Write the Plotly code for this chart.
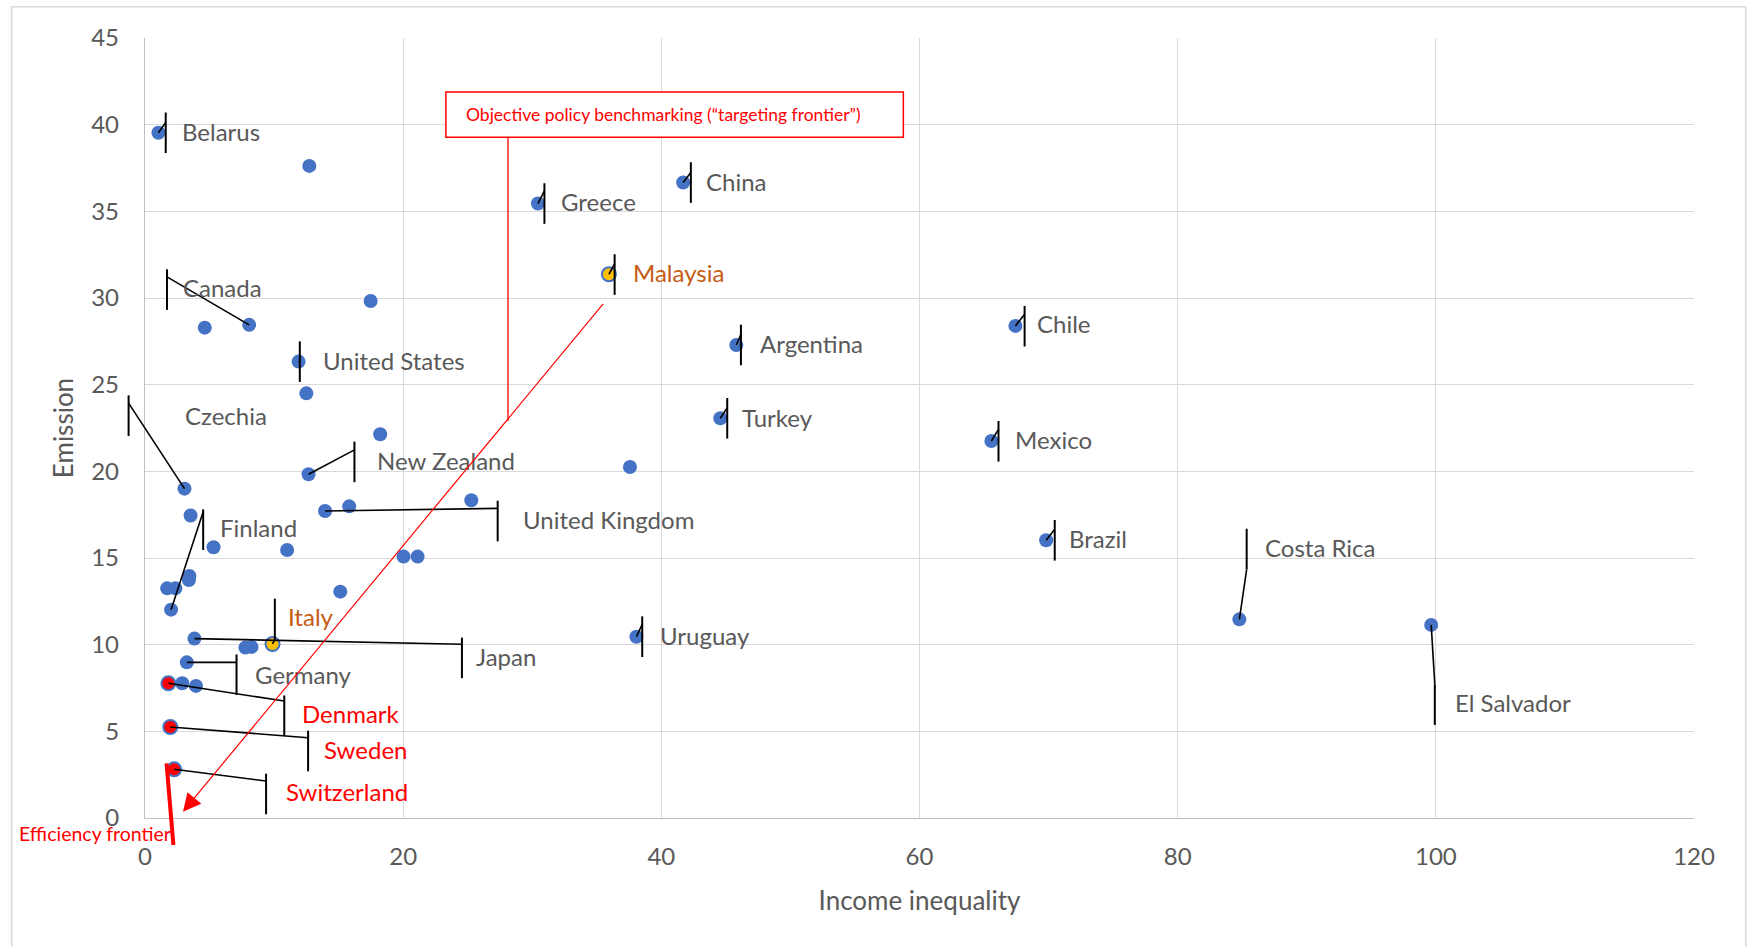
import plotly.graph_objects as go

# ---------------------------------------------------------------- data
countries = [
    "Belarus", "", "Greece", "China", "Malaysia", "", "Canada", "", "Chile",
    "Argentina", "United States", "", "Turkey", "", "Mexico", "", "New Zealand",
    "Czechia", "", "", "United Kingdom", "", "Brazil", "", "", "", "", "", "",
    "", "", "", "Finland", "Costa Rica", "El Salvador", "Uruguay", "Japan",
    "Italy", "", "", "Germany", "", "", "Denmark", "Sweden", "Switzerland",
]
income = [
    1.04, 12.73, 30.44, 41.69, 35.94, 17.48, 8.07, 4.63, 67.43,
    45.81, 11.90, 12.50, 44.57, 18.22, 65.57, 37.57, 12.67,
    3.06, 25.28, 15.82, 13.95, 3.53, 69.81, 5.31, 11.01, 20.03, 21.12, 3.44, 3.40,
    1.72, 2.35, 15.13, 2.02, 84.78, 99.64, 38.07, 3.83,
    9.88, 8.25, 7.78, 3.24, 2.88, 3.95, 1.81, 1.96, 2.26,
]
emission = [
    39.53, 37.62, 35.45, 36.66, 31.37, 29.83, 28.45, 28.29, 28.39,
    27.29, 26.33, 24.50, 23.06, 22.14, 21.75, 20.25, 19.83,
    19.00, 18.33, 17.98, 17.71, 17.45, 16.02, 15.62, 15.46, 15.08, 15.08, 13.96, 13.73,
    13.25, 13.25, 13.06, 12.02, 11.46, 11.14, 10.46, 10.35,
    10.04, 9.87, 9.83, 8.98, 7.77, 7.62, 7.77, 5.25, 2.81,
]
highlighted = ["Malaysia", "Italy"]
efficient = ["Denmark", "Sweden", "Switzerland"]

x_ticks = [0, 20, 40, 60, 80, 100, 120]
y_ticks = [0, 5, 10, 15, 20, 25, 30, 35, 40, 45]

# label callouts, in screen pixels relative to the point (right / up):
# bar x, bar centre y, leader end on the bar (from bar centre), text x, text y
callouts = {
    "Belarus":        (7.3, 0, 10.3, 24.6, -1.3),
    "Greece":         (6.5, 0, 12.7, 23.7, -1.3),
    "China":          (7.7, 0, 10.0, 23.4, -1.6),
    "Malaysia":       (5.7, -0.3, 10.6, 24.8, -1.7),
    "Argentina":      (4.6, 0, 10.7, 24.5, -1.7),
    "Turkey":         (6.9, 0, 10.6, 22.6, -2.0),
    "Chile":          (9.2, -0.3, 12.0, 23.0, -1.0),
    "Mexico":         (7.1, -0.3, 12.0, 24.5, -1.7),
    "Brazil":         (8.6, 0, 11.0, 23.4, -0.7),
    "Uruguay":        (5.8, 0, 12.4, 24.1, -1.6),
    "United States":  (1.2, 0, 0.0, 24.9, -1.6),
    "Canada":         (-82.2, 35.3, 12.7, -65.4, 34.0),
    "Czechia":        (-55.9, 73.0, 12.6, 1.1, 70.6),
    "New Zealand":    (45.9, 12.4, 12.0, 69.2, 11.0),
    "Finland":        (32.1, 80.0, 18.0, 49.7, 78.7),
    "United Kingdom": (172.6, -10.0, 12.7, 198.6, -11.7),
    "Japan":          (267.5, -19.3, 13.7, 282.1, -20.6),
    "Italy":          (2.3, 25.0, -20.3, 16.5, 24.0),
    "Germany":        (49.7, -12.4, 12.4, 68.8, -15.4),
    "Denmark":        (115.9, -32.4, 14.7, 134.7, -32.7),
    "Sweden":         (137.8, -24.0, 13.3, 155.0, -25.7),
    "Switzerland":    (91.9, -24.7, 13.0, 112.9, -25.7),
    "Costa Rica":     (7.3, 70.3, -20.3, 27.1, 69.3),
    "El Salvador":    (3.6, -79.7, 20.3, 24.6, -81.0),
}
BAR_HALF = 20.3
TEXT_NUDGE = (-3, 3)  # fine adjustment of label text against its box

# ---------------------------------------------------------------- styling
W, H = 1751, 947
M = dict(l=145, r=57, t=38, b=129)
PW = W - M["l"] - M["r"]
PH = H - M["t"] - M["b"]
X_RANGE = [0, 120]
Y_RANGE = [0, 45]

BLUE = "#4472C4"
GREY_TXT = "#595959"
ORANGE_TXT = "#C55A11"
RED = "#FF0000"
FONT = "Lato"


def to_paper(x, y, dx=0.0, dy=0.0):
    """Data position plus a pixel offset -> paper coordinates."""
    px = (x - X_RANGE[0]) / (X_RANGE[1] - X_RANGE[0]) + dx / PW
    py = (y - Y_RANGE[0]) / (Y_RANGE[1] - Y_RANGE[0]) + dy / PH
    return px, py


def pix_to_paper(px, py):
    """Absolute figure pixel -> paper coordinates."""
    return (px - M["l"]) / PW, (H - M["b"] - py) / PH


fig = go.Figure()

groups = [
    ([c not in highlighted and c not in efficient for c in countries], BLUE, 0),
    ([c in highlighted for c in countries], "#FFC000", 2),
    ([c in efficient for c in countries], RED, 2),
]
for mask, fill, lw in groups:
    fig.add_trace(go.Scatter(
        x=[v for v, m in zip(income, mask) if m],
        y=[v for v, m in zip(emission, mask) if m],
        mode="markers",
        marker=dict(size=14, color=fill, line=dict(color=BLUE, width=lw)),
        hoverinfo="skip",
    ))

shapes = []
annotations = []

# data labels with their callout leaders
for name, x, y in zip(countries, income, emission):
    if not name:
        continue
    bx, by, ey, tx, ty = callouts[name]
    color = RED if name in efficient else ORANGE_TXT if name in highlighted else GREY_TXT
    p0 = to_paper(x, y)
    p1 = to_paper(x, y, bx, by + ey)
    shapes.append(dict(type="line", xref="paper", yref="paper",
                       x0=p0[0], y0=p0[1], x1=p1[0], y1=p1[1],
                       line=dict(color="black", width=1.6)))
    b0 = to_paper(x, y, bx, by - BAR_HALF)
    b1 = to_paper(x, y, bx, by + BAR_HALF)
    shapes.append(dict(type="line", xref="paper", yref="paper",
                       x0=b0[0], y0=b0[1], x1=b1[0], y1=b1[1],
                       line=dict(color="black", width=2)))
    annotations.append(dict(
        x=x, y=y, xref="x", yref="y",
        xshift=tx + TEXT_NUDGE[0], yshift=ty + TEXT_NUDGE[1],
        text=name, showarrow=False, xanchor="left", yanchor="middle",
        font=dict(family=FONT, size=24, color=color),
    ))

# targeting-frontier callout box with its connector
shapes.append(dict(type="rect", xref="x", yref="y", x0=23.31, x1=58.75, y0=39.27, y1=41.89,
                   line=dict(color=RED, width=1.5), fillcolor="white", layer="above"))
shapes.append(dict(type="line", xref="x", yref="y", x0=28.12, x1=28.12, y0=39.27, y1=22.9,
                   line=dict(color=RED, width=1.3)))
annotations.append(dict(
    x=24.85, y=40.6, xref="x", yref="y", xanchor="left", yanchor="middle", xshift=-2,
    text="Objective policy benchmarking (“targeting frontier”)", showarrow=False,
    font=dict(family=FONT, size=17.5, color=RED),
))
annotations.append(dict(
    x=2.94, y=0.36, ax=35.59, ay=29.75, xref="x", yref="y", axref="x", ayref="y",
    text="", showarrow=True, arrowhead=2, arrowsize=3, arrowwidth=1.2, arrowcolor=RED,
))

# efficiency frontier marker line and caption
e0 = to_paper(1.67, 3.15)
e1 = to_paper(2.20, -1.56)
shapes.append(dict(type="line", xref="paper", yref="paper",
                   x0=e0[0], y0=e0[1], x1=e1[0], y1=e1[1],
                   line=dict(color=RED, width=4)))
ef = to_paper(1.78, -0.92, dx=5)
annotations.append(dict(
    x=ef[0], y=ef[1], xref="paper", yref="paper", xanchor="right", yanchor="middle",
    text="Efficiency frontier", showarrow=False,
    font=dict(family=FONT, size=19.5, color=RED),
))

# chart-area frame
f0 = pix_to_paper(11.7, 6.7)
f1 = pix_to_paper(1745.7, 990)
shapes.append(dict(type="rect", xref="paper", yref="paper",
                   x0=f0[0], y0=f1[1], x1=f1[0], y1=f0[1],
                   line=dict(color="#D9D9D9", width=1.5), layer="below"))

axis_common = dict(
    showgrid=True, gridcolor="#D9D9D9", gridwidth=1.3,
    zeroline=False, showline=True, linecolor="#BFBFBF", linewidth=1.3,
    ticks="", tickfont=dict(family=FONT, size=24, color=GREY_TXT),
    fixedrange=True,
)

fig.update_layout(
    width=W, height=H, margin=M,
    paper_bgcolor="white", plot_bgcolor="white",
    showlegend=False,
    xaxis=dict(range=X_RANGE, tickvals=x_ticks, ticklabelstandoff=17,
               title=dict(text="Income inequality", standoff=22,
                          font=dict(family=FONT, size=26, color=GREY_TXT)),
               **axis_common),
    yaxis=dict(range=Y_RANGE, tickvals=y_ticks, ticklabelstandoff=20,
               title=dict(text="Emission", standoff=10,
                          font=dict(family=FONT, size=26, color=GREY_TXT)),
               **axis_common),
    shapes=shapes,
    annotations=annotations,
)

fig.write_html("out.html")
